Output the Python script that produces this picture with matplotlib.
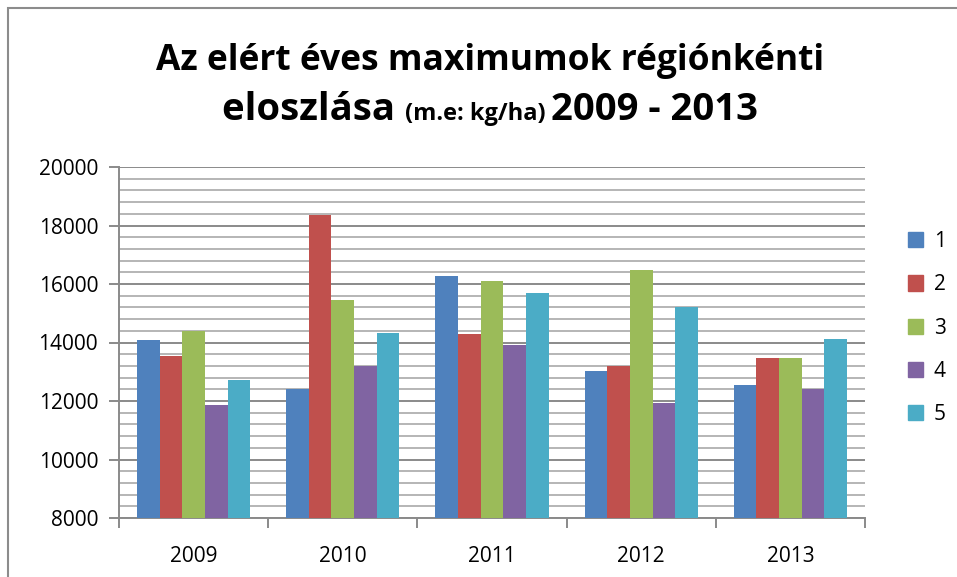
import numpy as np
import matplotlib.pyplot as plt
from matplotlib.patches import Rectangle, Patch
from matplotlib.ticker import MultipleLocator

plt.rcParams['font.family'] = ['Open Sans', 'DejaVu Sans']

years = ['2009', '2010', '2011', '2012', '2013']
regions = ['1', '2', '3', '4', '5']
r1 = [14100, 12410, 16260, 13040, 12550]
r2 = [13530, 18350, 14280, 13210, 13470]
r3 = [14380, 15450, 16100, 16480, 13480]
r4 = [11870, 13210, 13900, 11920, 12410]
r5 = [12730, 14330, 15690, 15210, 14130]
series = [r1, r2, r3, r4, r5]
colors = ['#4F81BD', '#C0504D', '#9BBB59', '#8064A2', '#4BACC6']

W, H = 957, 577
fig = plt.figure(figsize=(W / 100, H / 100), dpi=100)

# outer chart frame (cut by the image edge on the right and bottom)
fig.patches.append(Rectangle((8 / W, -0.1), 1.2, 1 - 8 / H + 0.1, transform=fig.transFigure,
                             fill=False, edgecolor='#8c8c8c', lw=1.5))

ax = fig.add_axes([119 / W, 1 - 518 / H, (865 - 119) / W, (518 - 167) / H])

x = np.arange(len(years))
bw = 0.152
for i, (vals, c) in enumerate(zip(series, colors)):
    ax.bar(x + (i - 2) * bw, vals, bw, color=c, label=regions[i], zorder=3, linewidth=0)

ax.set_ylim(8000, 20000)
ax.set_xlim(-0.5, len(years) - 0.5)
ax.yaxis.set_major_locator(MultipleLocator(2000))
ax.yaxis.set_minor_locator(MultipleLocator(400))
ax.grid(axis='y', which='major', color='#8a8a8a', lw=1.4, zorder=0)
ax.grid(axis='y', which='minor', color='#b5b5b5', lw=1.4, zorder=0)

ax.set_xticks(x)
ax.set_xticklabels(years)
ax.set_xticks(np.arange(len(years) + 1) - 0.5, minor=True)
ax.tick_params(axis='x', which='major', length=0, pad=20, labelsize=15)
ax.tick_params(axis='x', which='minor', length=7, width=1.4, color='#8a8a8a')
ax.tick_params(axis='y', which='major', length=7, width=1.4, color='#8a8a8a', pad=8, labelsize=15)
ax.tick_params(axis='y', which='minor', length=0)

for s in ['top', 'right']:
    ax.spines[s].set_visible(False)
for s in ['left', 'bottom']:
    ax.spines[s].set_color('#8a8a8a')
    ax.spines[s].set_linewidth(1.4)

handles = [Patch(color=c) for c in colors]
fig.legend(handles, regions, loc='center left', bbox_to_anchor=(889 / W, 1 - 328 / H),
           frameon=False, fontsize=15, handlelength=0.75, handleheight=0.75,
           handletextpad=0.5, labelspacing=1.07)

# title: two lines, the second mixes sizes
cx = 490 / W
fig.text(cx, 1 - 70 / H, 'Az elért éves maximumok régiónkénti', ha='center', va='baseline',
         fontsize=25.5, fontweight='bold')
parts = [('eloszlása ', 27.5), ('(m.e: kg/ha) ', 17), ('2009 - 2013', 27.5)]
txts = [fig.text(0, 1 - 120 / H, s, ha='left', va='baseline', fontsize=fs, fontweight='bold')
        for s, fs in parts]
fig.canvas.draw()
r = fig.canvas.get_renderer()
widths = [t.get_window_extent(r).width / W for t in txts]
xpos = cx - sum(widths) / 2
for t, w in zip(txts, widths):
    t.set_x(xpos)
    xpos += w

fig.savefig('out.png', dpi=100)
